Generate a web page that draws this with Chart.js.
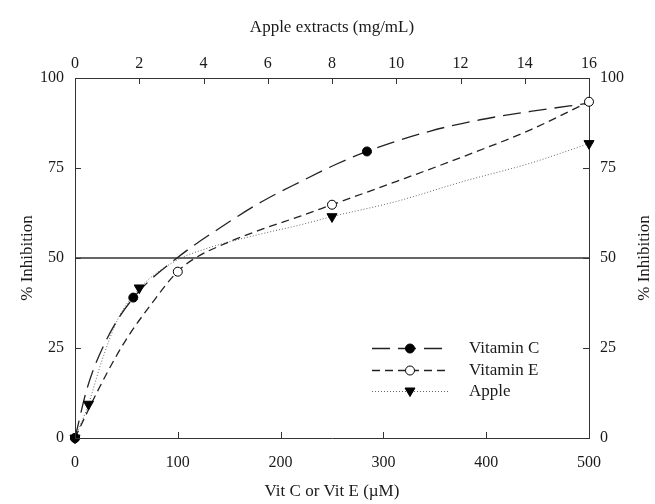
<!DOCTYPE html>
<html>
<head>
<meta charset="utf-8">
<script src="https://cdn.jsdelivr.net/npm/chart.js@4.4.1/dist/chart.umd.min.js"></script>
<style>
  body { margin: 0; background: #fff; }
  canvas { display: block; }
</style>
</head>
<body>
<canvas id="chart" width="655" height="504"></canvas>
<script>
// measured points: Vit C / Vit E in uM, apple in mg/mL (top axis), y = % inhibition
var vitCConc = [0, 56.7, 284];
var vitCInhib = [0, 39, 79.6];
var vitEConc = [0, 100, 250, 500];
var vitEInhib = [0, 46.2, 64.8, 93.4];
var appleConc = [0, 0.42, 2, 8, 16];
var appleInhib = [0, 9.4, 41.7, 61.5, 81.8];

// fitted curves
var vitCCurveX = [0, 12, 31, 57, 97, 146, 182, 220, 253, 284, 345, 394, 443, 500];
var vitCCurveY = [0, 14, 27.5, 39, 49.5, 59.3, 65.7, 71.3, 75.9, 79.6, 85.2, 88.4, 90.7, 93];
var vitECurveX = [0, 15, 31, 49, 75, 100, 117, 146, 182, 220, 250, 313, 378, 443, 500];
var vitECurveY = [0, 9, 18, 27, 37.5, 46.3, 50, 54, 58, 61.7, 64.8, 71.3, 78.2, 85.6, 93.4];
var appleCurveX = [0, 0.42, 0.83, 1.35, 2.02, 3.11, 4.15, 5.71, 7.06, 8, 10, 12.1, 14.2, 16];
var appleCurveY = [0, 9.4, 21.3, 33.3, 41.7, 49.1, 52.8, 56.5, 59.3, 61.5, 65.7, 71.3, 76.4, 81.8];

var seriesNames = ["Vitamin C", "Vitamin E", "Apple"];
var refLevel = 50;

var serif = "'Liberation Serif', 'DejaVu Serif', serif";
var ink = "#1a1a1a";

function pts(xs, ys) {
  var out = [];
  for (var i = 0; i < xs.length; i++) out.push({x: xs[i], y: ys[i]});
  return out;
}

var tickFont = {family: serif, size: 16};
var titleFont = {family: serif, size: 17};

var styles = [
  {line: "#222", width: 1.3, dash: [18, 8], fill: "#000", shape: "circle"},
  {line: "#222", width: 1.3, dash: [8, 5], fill: "#fff", shape: "circle"},
  {line: "#666", width: 1, dash: [1, 2], fill: "#000", shape: "triangle"}
];

// inward ticks, right axis title, legend inside the plot
var extras = {
  id: "extras",
  afterDatasetsDraw: function(chart) {
    var ctx = chart.ctx, a = chart.chartArea, s = chart.scales;
    ctx.save();
    ctx.strokeStyle = "#333";
    ctx.lineWidth = 1;
    ctx.beginPath();
    s.x.ticks.forEach(function(t) {
      var px = Math.round(s.x.getPixelForValue(t.value)) + 0.5;
      ctx.moveTo(px, a.bottom); ctx.lineTo(px, a.bottom - 6);
    });
    s.x2.ticks.forEach(function(t) {
      var px = Math.round(s.x2.getPixelForValue(t.value)) + 0.5;
      ctx.moveTo(px, a.top); ctx.lineTo(px, a.top + 6);
    });
    s.y.ticks.forEach(function(t) {
      var py = Math.round(s.y.getPixelForValue(t.value)) + 0.5;
      ctx.moveTo(a.left, py); ctx.lineTo(a.left + 6, py);
    });
    s.y2.ticks.forEach(function(t) {
      var py = Math.round(s.y2.getPixelForValue(t.value)) + 0.5;
      ctx.moveTo(a.right, py); ctx.lineTo(a.right - 6, py);
    });
    ctx.stroke();

    ctx.fillStyle = ink;
    ctx.font = "17px " + serif;
    ctx.textAlign = "center";
    ctx.textBaseline = "middle";
    ctx.translate(645, (a.top + a.bottom) / 2);
    ctx.rotate(-Math.PI / 2);
    ctx.fillText("% Inhibition", 0, 0);
    ctx.restore();

    // legend
    var rows = [348, 370, 391];
    for (var i = 0; i < 3; i++) {
      var st = styles[i];
      var y = rows[i] + 0.5;
      ctx.save();
      ctx.strokeStyle = st.line;
      ctx.lineWidth = st.width;
      ctx.setLineDash(st.dash);
      ctx.beginPath();
      ctx.moveTo(372, y); ctx.lineTo(450, y);
      ctx.stroke();
      ctx.setLineDash([]);
      var mx = 410;
      ctx.fillStyle = st.fill;
      ctx.strokeStyle = "#000";
      ctx.lineWidth = 1;
      ctx.beginPath();
      if (st.shape === "triangle") {
        ctx.moveTo(mx - 5, y - 3.5); ctx.lineTo(mx + 5, y - 3.5); ctx.lineTo(mx, y + 5);
        ctx.closePath();
      } else {
        ctx.arc(mx, y, 4.5, 0, Math.PI * 2);
      }
      ctx.fill(); ctx.stroke();
      ctx.fillStyle = ink;
      ctx.font = "17px " + serif;
      ctx.textAlign = "left";
      ctx.textBaseline = "middle";
      ctx.fillText(seriesNames[i], 469, y);
      ctx.restore();
    }
  }
};

function curve(data, i, xAxis) {
  return {
    data: data, xAxisID: xAxis, yAxisID: "y",
    borderColor: styles[i].line, borderWidth: styles[i].width, borderDash: styles[i].dash,
    pointRadius: 0, cubicInterpolationMode: "monotone", clip: false, order: 6 + i
  };
}

function markers(data, i, xAxis, order) {
  return {
    data: data, xAxisID: xAxis, yAxisID: "y", showLine: false,
    pointStyle: styles[i].shape, rotation: styles[i].shape === "triangle" ? 180 : 0,
    pointRadius: styles[i].shape === "triangle" ? 5.8 : 4.5,
    pointBackgroundColor: styles[i].fill, pointBorderColor: "#000", pointBorderWidth: 1,
    clip: false, order: order
  };
}

new Chart(document.getElementById("chart"), {
  type: "line",
  data: {
    datasets: [
      curve(pts(vitCCurveX, vitCCurveY), 0, "x"),
      curve(pts(vitECurveX, vitECurveY), 1, "x"),
      curve(pts(appleCurveX, appleCurveY), 2, "x2"),
      markers(pts(vitCConc, vitCInhib), 0, "x", 2),
      markers(pts(vitEConc, vitEInhib), 1, "x", 3),
      markers(pts(appleConc, appleInhib), 2, "x2", 1),
      {
        data: pts([0, 500], [refLevel, refLevel]), xAxisID: "x", yAxisID: "y",
        borderColor: "#333", borderWidth: 1.5, pointRadius: 0, order: 10
      }
    ]
  },
  options: {
    responsive: false,
    animation: false,
    layout: {padding: 0},
    plugins: {legend: {display: false}, tooltip: {enabled: false}},
    scales: {
      x: {
        type: "linear", position: "bottom", min: 0, max: 500,
        afterFit: function(s) { s.height = 66; },
        ticks: {stepSize: 100, color: ink, font: tickFont, padding: 15, maxRotation: 0},
        grid: {drawOnChartArea: false, drawTicks: false},
        border: {color: "#333", width: 1},
        title: {display: true, text: "Vit C or Vit E (\u00b5M)", color: ink, font: titleFont, padding: {bottom: 2}}
      },
      x2: {
        type: "linear", position: "top", min: 0, max: 16,
        afterFit: function(s) { s.height = 78; },
        ticks: {stepSize: 2, color: ink, font: tickFont, padding: 5, maxRotation: 0},
        grid: {drawOnChartArea: false, drawTicks: false},
        border: {color: "#333", width: 1},
        title: {display: true, text: "Apple extracts (mg/mL)", color: ink, font: titleFont, padding: {top: 17}}
      },
      y: {
        type: "linear", position: "left", min: 0, max: 100,
        afterFit: function(s) { s.width = 75; },
        ticks: {stepSize: 25, color: ink, font: tickFont, padding: 11},
        grid: {drawOnChartArea: false, drawTicks: false},
        border: {color: "#333", width: 1},
        title: {display: true, text: "% Inhibition", color: ink, font: titleFont, padding: {top: 17}}
      },
      y2: {
        type: "linear", position: "right", min: 0, max: 100,
        afterFit: function(s) { s.width = 66; },
        ticks: {stepSize: 25, color: ink, font: tickFont, padding: 11},
        grid: {drawOnChartArea: false, drawTicks: false},
        border: {color: "#333", width: 1}
      }
    }
  },
  plugins: [extras]
});
</script>
</body>
</html>
